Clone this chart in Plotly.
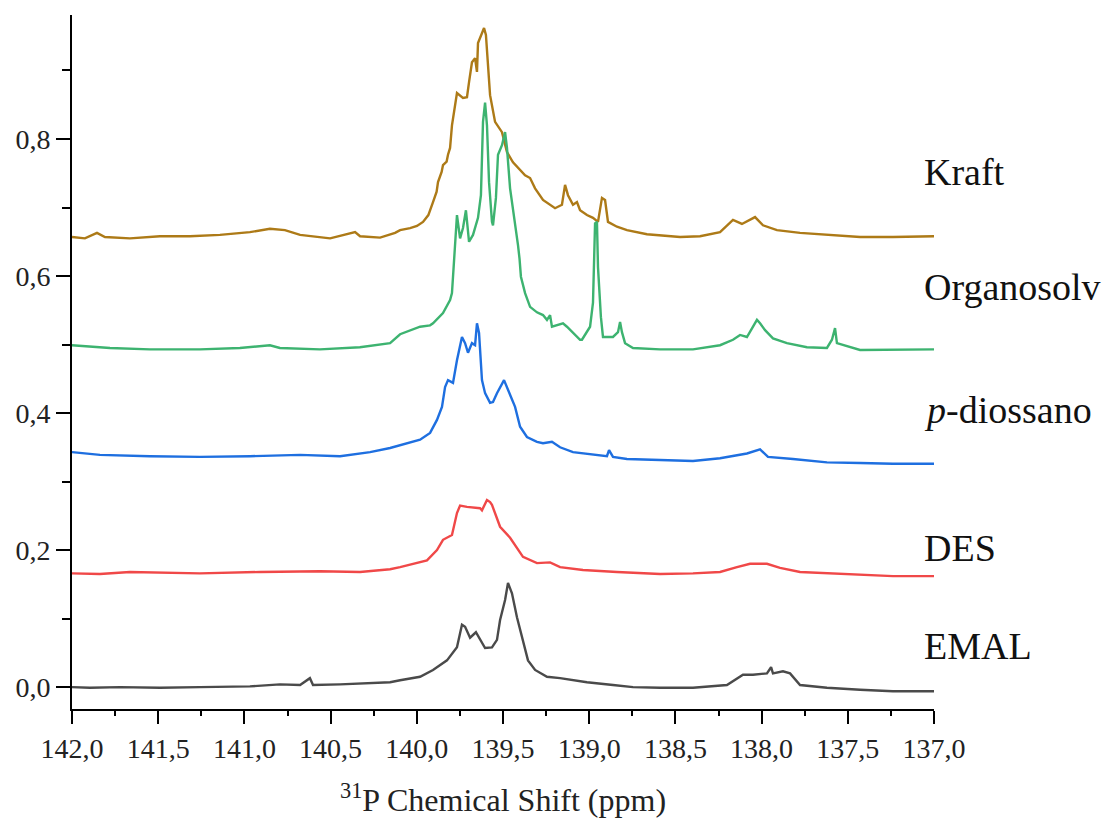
import plotly.graph_objects as go

# 31P NMR spectra of phosphitylated lignins (offset traces)
kraft_ppm = [142.0, 141.925, 141.855, 141.809, 141.664, 141.49, 141.316, 141.142, 140.968, 140.852,
             140.765, 140.677, 140.503, 140.358, 140.329, 140.213, 140.126, 140.097, 140.039, 139.999,
             139.964, 139.933, 139.906, 139.885, 139.877, 139.856, 139.848, 139.827, 139.819, 139.807,
             139.796, 139.778, 139.767, 139.732, 139.709, 139.697,
             139.68, 139.662, 139.651, 139.645, 139.622, 139.61, 139.599, 139.587, 139.575, 139.546,
             139.506, 139.477, 139.442, 139.372, 139.343, 139.314, 139.268, 139.198, 139.158, 139.14,
             139.123, 139.094, 139.071, 139.053, 139.013, 138.978, 138.949, 138.926, 138.908, 138.891,
             138.839, 138.781, 138.665, 138.473, 138.357, 138.241, 138.166, 138.114, 138.038, 137.992,
             137.911, 137.777, 137.621, 137.429, 137.238, 137.023, 137.0]
kraft_int = [0.657, 0.655, 0.663, 0.657, 0.655, 0.658, 0.658, 0.660, 0.664, 0.669,
             0.667, 0.660, 0.655, 0.664, 0.658, 0.656, 0.663, 0.667, 0.670, 0.673,
             0.679, 0.689, 0.708, 0.723, 0.737, 0.752, 0.762, 0.767, 0.777, 0.787,
             0.820, 0.854, 0.867, 0.860, 0.861, 0.883,
             0.912, 0.918, 0.898, 0.940, 0.956, 0.962, 0.952, 0.904, 0.864, 0.825,
             0.810, 0.781, 0.766, 0.747, 0.743, 0.728, 0.711, 0.699, 0.704, 0.733,
             0.718, 0.704, 0.708, 0.696, 0.689, 0.685, 0.679, 0.714, 0.711, 0.679,
             0.672, 0.667, 0.661, 0.657, 0.658, 0.664, 0.682, 0.676, 0.686, 0.674,
             0.667, 0.663, 0.660, 0.657, 0.657, 0.658, 0.658]

organosolv_ppm = [142.0, 141.896, 141.78, 141.548, 141.258, 141.026, 140.852, 140.794, 140.562, 140.33,
                  140.155, 140.097, 140.039, 139.981, 139.923, 139.906, 139.848, 139.807, 139.796, 139.784,
                  139.776, 139.767, 139.749, 139.732, 139.715, 139.697, 139.674, 139.645, 139.628, 139.616,
                  139.604, 139.593, 139.581, 139.564, 139.558, 139.541, 139.529, 139.506, 139.488, 139.477,
                  139.459, 139.43, 139.413, 139.404, 139.396, 139.372, 139.343, 139.303, 139.268, 139.245,
                  139.227, 139.216, 139.187, 139.152, 139.129, 139.094, 139.053, 139.042, 139.013, 138.995,
                  138.978, 138.966, 138.955, 138.949, 138.932, 138.92, 138.862, 138.833, 138.821, 138.81,
                  138.792, 138.746, 138.589, 138.398, 138.241, 138.166, 138.125, 138.085, 138.027, 138.009,
                  137.98, 137.934, 137.853, 137.737, 137.621, 137.592, 137.574, 137.563, 137.429, 137.238,
                  137.023, 137.0]
organosolv_int = [0.499, 0.497, 0.495, 0.493, 0.493, 0.495, 0.499, 0.495, 0.493, 0.496,
                  0.502, 0.515, 0.521, 0.526, 0.528, 0.531, 0.546, 0.565, 0.575, 0.619,
                  0.652, 0.689, 0.655, 0.670, 0.696, 0.650, 0.660, 0.685, 0.718, 0.825,
                  0.853, 0.820, 0.737, 0.679, 0.674, 0.714, 0.777, 0.791, 0.810, 0.787,
                  0.728, 0.679, 0.645, 0.625, 0.599, 0.575, 0.555, 0.547, 0.543, 0.536,
                  0.543, 0.526, 0.528, 0.531, 0.526, 0.517, 0.507, 0.507, 0.520, 0.526,
                  0.561, 0.677, 0.679, 0.613, 0.540, 0.511, 0.511, 0.518, 0.533, 0.518,
                  0.502, 0.495, 0.493, 0.493, 0.499, 0.507, 0.514, 0.511, 0.536, 0.531,
                  0.521, 0.509, 0.502, 0.496, 0.495, 0.507, 0.524, 0.502, 0.492, 0.492,
                  0.493, 0.493]

diossano_ppm = [142.0, 141.838, 141.548, 141.258, 140.968, 140.677, 140.445, 140.271, 140.155, 140.097,
                140.039, 139.981, 139.923, 139.883, 139.854, 139.836, 139.819, 139.79, 139.767, 139.738,
                139.72, 139.703, 139.68, 139.662, 139.651, 139.639, 139.622, 139.604, 139.575, 139.558,
                139.535, 139.517, 139.494, 139.471, 139.43, 139.401, 139.361, 139.303, 139.268, 139.216,
                139.169, 139.094, 138.978, 138.897, 138.885, 138.862, 138.781, 138.589, 138.398, 138.241,
                138.085, 138.009, 137.963, 137.818, 137.621, 137.429, 137.238, 137.012, 137.0]
diossano_int = [0.343, 0.339, 0.337, 0.336, 0.337, 0.339, 0.337, 0.343, 0.349, 0.353,
                0.358, 0.361, 0.371, 0.390, 0.409, 0.438, 0.448, 0.444, 0.477, 0.511,
                0.502, 0.488, 0.502, 0.499, 0.531, 0.517, 0.448, 0.429, 0.415, 0.416,
                0.429, 0.438, 0.448, 0.434, 0.409, 0.380, 0.365, 0.358, 0.356, 0.358,
                0.350, 0.343, 0.340, 0.337, 0.346, 0.336, 0.333, 0.331, 0.330, 0.334,
                0.341, 0.347, 0.336, 0.333, 0.328, 0.327, 0.326, 0.326, 0.326]

des_ppm = [142.0, 141.838, 141.664, 141.258, 140.91, 140.562, 140.329, 140.155, 140.097, 140.022,
           139.941, 139.883, 139.848, 139.796, 139.778, 139.767, 139.749, 139.709, 139.633, 139.622,
           139.593, 139.575, 139.564, 139.535, 139.517, 139.459, 139.384, 139.303, 139.227, 139.169,
           139.129, 139.036, 138.839, 138.647, 138.589, 138.398, 138.241, 138.143, 138.067, 137.969,
           137.893, 137.777, 137.621, 137.429, 137.238, 137.0]
des_int = [0.166, 0.165, 0.168, 0.166, 0.168, 0.169, 0.168, 0.172, 0.175, 0.180,
           0.185, 0.200, 0.215, 0.222, 0.244, 0.254, 0.265, 0.263, 0.261, 0.258,
           0.273, 0.270, 0.266, 0.248, 0.234, 0.218, 0.190, 0.181, 0.182, 0.175,
           0.174, 0.171, 0.168, 0.166, 0.165, 0.166, 0.168, 0.175, 0.180, 0.180,
           0.174, 0.168, 0.166, 0.164, 0.162, 0.162]

emal_ppm = [142.0, 141.896, 141.722, 141.49, 141.258, 140.968, 140.794, 140.677, 140.62, 140.602,
            140.445, 140.271, 140.155, 140.097, 139.981, 139.906, 139.825, 139.767, 139.738, 139.72,
            139.691, 139.657, 139.633, 139.604, 139.564, 139.535, 139.517, 139.488, 139.471, 139.448,
            139.419, 139.384, 139.355, 139.314, 139.245, 139.169, 139.013, 138.862, 138.746, 138.589,
            138.398, 138.201, 138.108, 138.05, 137.969, 137.945, 137.934, 137.876, 137.835, 137.777,
            137.621, 137.429, 137.238, 137.0]
emal_int = [0.000, -0.001, 0.000, -0.001, 0.000, 0.001, 0.004, 0.003, 0.013, 0.003,
            0.004, 0.006, 0.007, 0.010, 0.015, 0.025, 0.039, 0.058, 0.091, 0.088,
            0.072, 0.080, 0.069, 0.057, 0.058, 0.069, 0.098, 0.127, 0.152, 0.137,
            0.102, 0.069, 0.039, 0.025, 0.015, 0.013, 0.007, 0.003, 0.000, -0.001,
            -0.001, 0.003, 0.018, 0.018, 0.020, 0.029, 0.020, 0.023, 0.020, 0.003,
            -0.001, -0.004, -0.006, -0.006]

series_names = ["Kraft", "Organosolv", "<i>p</i>-diossano", "DES", "EMAL"]
series_colors = ["#AD7A17", "#3DB370", "#1E6FE0", "#F04848", "#4A4A4A"]
series_x = [kraft_ppm, organosolv_ppm, diossano_ppm, des_ppm, emal_ppm]
series_y = [kraft_int, organosolv_int, diossano_int, des_int, emal_int]
label_y = [0.752, 0.584, 0.404, 0.203, 0.060]

x_tickvals = [142.0, 141.5, 141.0, 140.5, 140.0, 139.5, 139.0, 138.5, 138.0, 137.5, 137.0]
x_ticktext = ["142,0", "141,5", "141,0", "140,5", "140,0", "139,5", "139,0", "138,5", "138,0", "137,5", "137,0"]
y_tickvals = [0.0, 0.2, 0.4, 0.6, 0.8]
y_ticktext = ["0,0", "0,2", "0,4", "0,6", "0,8"]

SERIF = "Liberation Serif, Times New Roman, serif"

fig = go.Figure()
for xs, ys, name, color in zip(series_x, series_y, series_names, series_colors):
    fig.add_trace(go.Scatter(x=xs, y=ys, mode="lines", name=name,
                             line=dict(color=color, width=2.4), showlegend=False))

for name, ly in zip(series_names, label_y):
    fig.add_annotation(text=name, xref="paper", x=0.986, xanchor="left",
                       yref="y", y=ly, yanchor="middle", showarrow=False,
                       font=dict(family=SERIF, size=38, color="#111111"))

axis_common = dict(showline=True, linecolor="black", linewidth=2, ticks="outside",
                   tickwidth=2, tickcolor="black", showgrid=False, zeroline=False,
                   automargin=False,
                   tickfont=dict(family=SERIF, size=28, color="#222222"))

fig.update_xaxes(range=[142, 137], tickmode="array", tickvals=x_tickvals, ticktext=x_ticktext,
                 ticklen=13,
                 minor=dict(ticks="outside", tickmode="linear", tick0=137, dtick=0.25,
                            ticklen=5, tickwidth=2, tickcolor="black", showgrid=False),
                 title=dict(text="<sup>31</sup>P Chemical Shift (ppm)", standoff=27,
                            font=dict(family=SERIF, size=32, color="#222222")),
                 **axis_common)
fig.update_yaxes(range=[-0.032, 0.981], tickmode="array", tickvals=y_tickvals, ticktext=y_ticktext,
                 ticklen=14,
                 minor=dict(ticks="outside", tickmode="linear", tick0=0, dtick=0.1,
                            ticklen=8, tickwidth=2, tickcolor="black", showgrid=False),
                 **axis_common)

fig.update_layout(width=1104, height=818, margin=dict(l=72, r=170, t=15, b=109, pad=0),
                  plot_bgcolor="white", paper_bgcolor="white")

fig.write_html("out.html")
